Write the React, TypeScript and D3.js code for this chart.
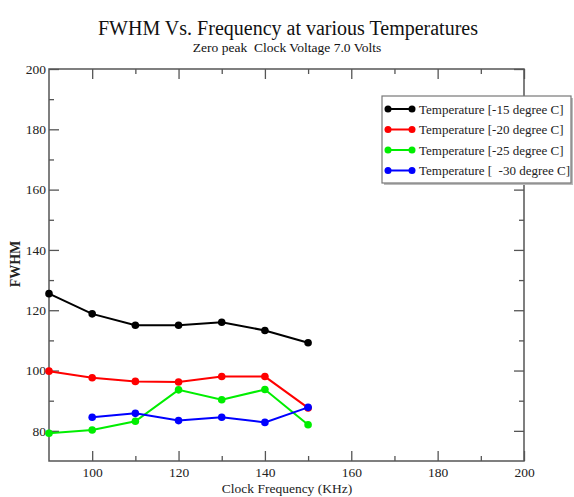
import * as d3 from "d3";
import { useLayoutEffect, useRef } from "react";

const frequencies = [90, 100, 110, 120, 130, 140, 150];
const temp15 = [125.5, 118.8, 115.0, 115.0, 116.0, 113.3, 109.2];
const temp20 = [99.8, 97.6, 96.4, 96.2, 98.0, 98.0, 87.6];
const temp25 = [79.2, 80.3, 83.2, 93.6, 90.3, 93.7, 82.0];
const temp30 = [null, 84.5, 85.8, 83.4, 84.5, 82.8, 87.8];

const seriesNames = [
  "Temperature [-15 degree C]",
  "Temperature [-20 degree C]",
  "Temperature [-25 degree C]",
  "Temperature [  -30 degree C]",
];
const seriesColors = ["#000000", "#ff0000", "#00ee00", "#0000ff"];

const xMajorTicks = [100, 120, 140, 160, 180, 200];
const xMinorTicks = [110, 130, 150, 170, 190];
const yMajorTicks = [80, 100, 120, 140, 160, 180, 200];
const yMinorTicks = [90, 110, 130, 150, 170, 190];

const WIDTH = 574;
const HEIGHT = 497;
const PLOT = { left: 49, right: 524, top: 69, bottom: 461 };
const FONT = "'Liberation Serif', 'Times New Roman', serif";
const FRAME_COLOR = "#555";

export default function App() {
  const svgElement = useRef<SVGSVGElement | null>(null);

  useLayoutEffect(function draw() {
    const svg = d3.select(svgElement.current);
    svg.selectAll("*").remove();

    const x = d3.scaleLinear().domain([90, 200]).range([PLOT.left, PLOT.right]);
    const y = d3.scaleLinear().domain([70, 200]).range([PLOT.bottom, PLOT.top]);

    svg
      .append("rect")
      .attr("width", WIDTH)
      .attr("height", HEIGHT)
      .attr("fill", "#fff");

    // titles
    svg
      .append("text")
      .attr("x", 288)
      .attr("y", 35)
      .attr("text-anchor", "middle")
      .style("font-family", FONT)
      .style("font-size", "20px")
      .attr("fill", "#111")
      .text("FWHM Vs. Frequency at various Temperatures");

    svg
      .append("text")
      .attr("x", 287)
      .attr("y", 52)
      .attr("text-anchor", "middle")
      .style("font-family", FONT)
      .style("font-size", "13.5px")
      .style("white-space", "pre")
      .attr("fill", "#111")
      .text("Zero peak  Clock Voltage 7.0 Volts");

    // axes: ticks point into the plot on all four sides
    const styleAxis = (g, withLabels) => {
      g.select(".domain").remove();
      g.selectAll(".tick line").attr("stroke", FRAME_COLOR).attr("stroke-width", 1.3);
      g.selectAll("text")
        .style("font-family", FONT)
        .style("font-size", "13.5px")
        .attr("fill", "#222");
      if (!withLabels) g.selectAll("text").remove();
    };

    svg
      .append("g")
      .attr("transform", `translate(0,${PLOT.bottom})`)
      .call(d3.axisBottom(x).tickValues(xMajorTicks).tickSize(-10).tickPadding(6).tickFormat(d3.format("d")))
      .call((g) => styleAxis(g, true));
    svg
      .append("g")
      .attr("transform", `translate(0,${PLOT.bottom})`)
      .call(d3.axisBottom(x).tickValues(xMinorTicks).tickSize(-5))
      .call((g) => styleAxis(g, false));
    svg
      .append("g")
      .attr("transform", `translate(0,${PLOT.top})`)
      .call(d3.axisTop(x).tickValues(xMajorTicks).tickSize(-10))
      .call((g) => styleAxis(g, false));
    svg
      .append("g")
      .attr("transform", `translate(0,${PLOT.top})`)
      .call(d3.axisTop(x).tickValues(xMinorTicks).tickSize(-5))
      .call((g) => styleAxis(g, false));

    svg
      .append("g")
      .attr("transform", `translate(${PLOT.left},0)`)
      .call(d3.axisLeft(y).tickValues(yMajorTicks).tickSize(-10).tickPadding(3).tickFormat(d3.format("d")))
      .call((g) => styleAxis(g, true));
    svg
      .append("g")
      .attr("transform", `translate(${PLOT.left},0)`)
      .call(d3.axisLeft(y).tickValues(yMinorTicks).tickSize(-5))
      .call((g) => styleAxis(g, false));
    svg
      .append("g")
      .attr("transform", `translate(${PLOT.right},0)`)
      .call(d3.axisRight(y).tickValues(yMajorTicks).tickSize(-10))
      .call((g) => styleAxis(g, false));
    svg
      .append("g")
      .attr("transform", `translate(${PLOT.right},0)`)
      .call(d3.axisRight(y).tickValues(yMinorTicks).tickSize(-5))
      .call((g) => styleAxis(g, false));

    svg
      .append("rect")
      .attr("x", PLOT.left)
      .attr("y", PLOT.top)
      .attr("width", PLOT.right - PLOT.left)
      .attr("height", PLOT.bottom - PLOT.top)
      .attr("fill", "none")
      .attr("stroke", FRAME_COLOR)
      .attr("stroke-width", 1.5);

    // axis labels
    svg
      .append("text")
      .attr("x", 287)
      .attr("y", 493)
      .attr("text-anchor", "middle")
      .style("font-family", FONT)
      .style("font-size", "13.5px")
      .attr("fill", "#222")
      .text("Clock Frequency (KHz)");

    svg
      .append("text")
      .attr("transform", `translate(20, ${264}) rotate(-90)`)
      .attr("text-anchor", "middle")
      .style("font-family", FONT)
      .style("font-size", "14px")
      .style("font-weight", "bold")
      .attr("fill", "#222")
      .text("FWHM");

    // series
    const allSeries = [temp15, temp20, temp25, temp30];
    const line = d3
      .line()
      .defined((d) => d[1] != null)
      .x((d) => x(d[0]))
      .y((d) => y(d[1]));

    const plot = svg.append("g").attr("class", "series");
    allSeries.forEach((values, i) => {
      const pts = frequencies.map((f, j) => [f, values[j]]);
      plot
        .append("path")
        .datum(pts)
        .attr("d", line)
        .attr("fill", "none")
        .attr("stroke", seriesColors[i])
        .attr("stroke-width", 2);
      plot
        .selectAll(`.pt-${i}`)
        .data(pts.filter((d) => d[1] != null))
        .join("circle")
        .attr("class", `pt-${i}`)
        .attr("cx", (d) => x(d[0]))
        .attr("cy", (d) => y(d[1]))
        .attr("r", 3.8)
        .attr("fill", seriesColors[i]);
    });

    // legend
    const legend = svg.append("g").attr("transform", "translate(382,96)");
    legend
      .append("rect")
      .attr("x", 2)
      .attr("y", 2)
      .attr("width", 189)
      .attr("height", 87)
      .attr("fill", "#bbb");
    legend
      .append("rect")
      .attr("width", 189)
      .attr("height", 87)
      .attr("fill", "#fff")
      .attr("stroke", "#777")
      .attr("stroke-width", 1.2);

    seriesNames.forEach((name, i) => {
      const row = legend.append("g").attr("transform", `translate(0,${13 + i * 20.5})`);
      row
        .append("line")
        .attr("x1", 6)
        .attr("x2", 30)
        .attr("stroke", seriesColors[i])
        .attr("stroke-width", 2);
      row
        .selectAll("circle")
        .data([6, 30])
        .join("circle")
        .attr("cx", (d) => d)
        .attr("r", 3.5)
        .attr("fill", seriesColors[i]);
      row
        .append("text")
        .attr("x", 37)
        .attr("y", 4.5)
        .style("font-family", FONT)
        .style("font-size", "13px")
        .style("white-space", "pre")
        .attr("fill", "#222")
        .text(name);
    });
  }, []);

  return (
    <svg
      ref={svgElement}
      width={WIDTH}
      height={HEIGHT}
      style={{ position: "absolute", left: 0, top: 0 }}
    ></svg>
  );
}
